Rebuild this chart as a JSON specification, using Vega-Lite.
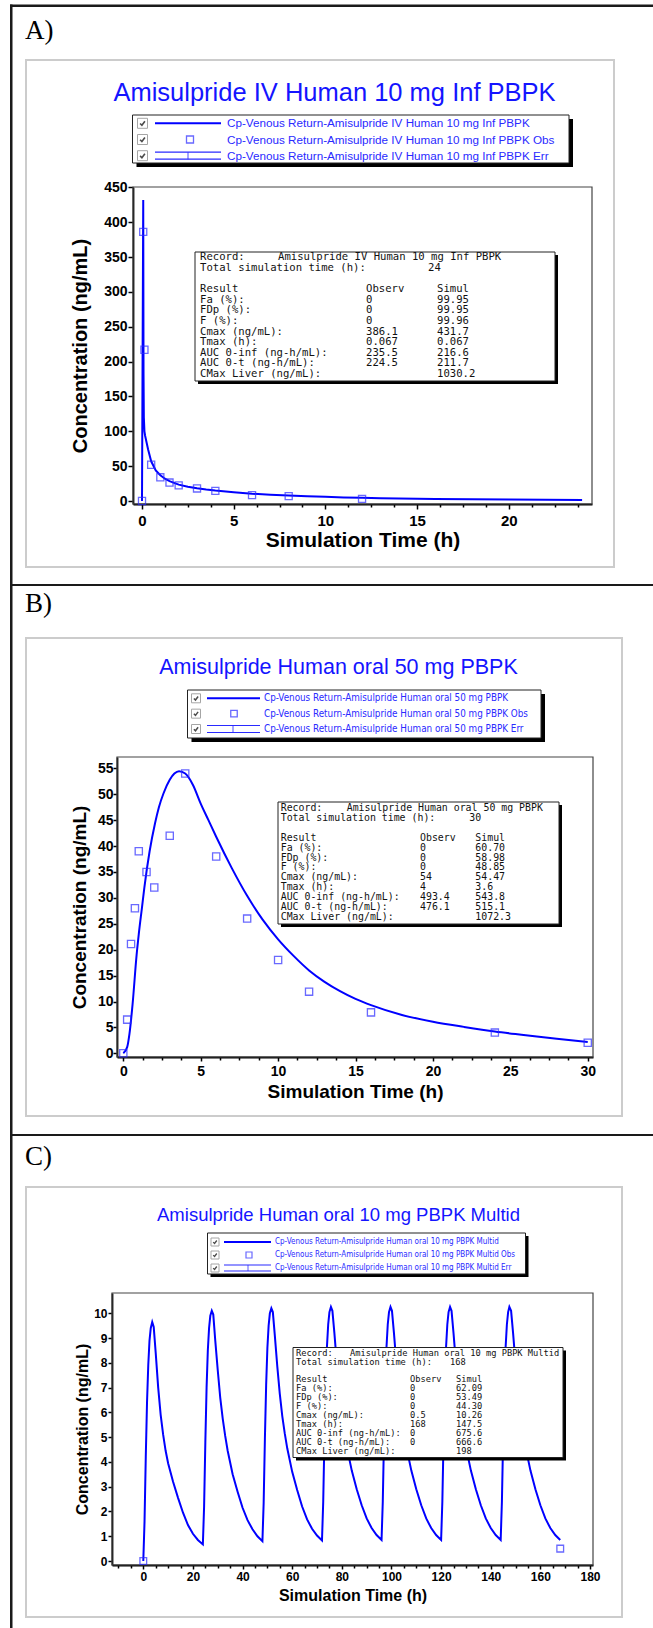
{
"$schema":"https://vega.github.io/schema/vega-lite/v6.json",
"background":"white",
"padding":0,
"spacing":0,
"config":{
 "view":{"stroke":null},
 "axis":{"labelFont":"Liberation Sans","titleFont":"Liberation Sans","labelFontWeight":"bold","titleFontWeight":"bold","labelColor":"#000","titleColor":"#000","tickColor":"#000","domainColor":"#000","grid":false,"labelFlush":false,"labelOverlap":false,"tickWidth":1.5,"domainWidth":1.8}
},
"vconcat":[
{
 "width":481,"height":317,
 "resolve":{"scale":{"x":"independent","y":"independent"}},
 "layer":[
  {"data":{"values":[{}]},
   "layer":[
    {"mark":{"type":"rect","fill":"#ffffff","fillOpacity":0},"encoding":{"x":{"datum":0,"type":"quantitative","scale":{"domain":[0,653],"range":[-112,541],"nice":false,"zero":false},"axis":null},"x2":{"datum":653},"y":{"datum":0,"type":"quantitative","scale":{"domain":[0,586],"range":[-187,399],"nice":false,"zero":false},"axis":null},"y2":{"datum":586}}},
    {"mark":{"type":"rect","fill":"#1a1a1a"},"encoding":{"x":{"datum":10,"type":"quantitative","axis":null},"x2":{"datum":653},"y":{"datum":4.5,"type":"quantitative","axis":null},"y2":{"datum":7}}},
    {"mark":{"type":"rect","fill":"#1a1a1a"},"encoding":{"x":{"datum":10,"type":"quantitative","axis":null},"x2":{"datum":12.5},"y":{"datum":4.5,"type":"quantitative","axis":null},"y2":{"datum":586}}},
    {"mark":{"type":"rect","fill":"#1a1a1a"},"encoding":{"x":{"datum":10,"type":"quantitative","axis":null},"x2":{"datum":653},"y":{"datum":584,"type":"quantitative","axis":null},"y2":{"datum":586}}},
    {"mark":{"type":"rect","filled":false,"stroke":"#cccccc","strokeWidth":2},"encoding":{"x":{"datum":26,"type":"quantitative","axis":null},"x2":{"datum":614},"y":{"datum":60,"type":"quantitative","axis":null},"y2":{"datum":567}}},
    {"mark":{"type":"rect","filled":false,"stroke":"#444","strokeWidth":1.2},"encoding":{"x":{"datum":133,"type":"quantitative","axis":null},"x2":{"datum":592},"y":{"datum":187,"type":"quantitative","axis":null},"y2":{"datum":504}}},
    {"mark":{"type":"text","text":"A)","font":"Liberation Serif","fontSize":27,"align":"left","baseline":"middle","fill":"#000"},"encoding":{"x":{"datum":25,"type":"quantitative","axis":null},"y":{"datum":31,"type":"quantitative","axis":null}}},
    {"mark":{"type":"text","text":"Amisulpride IV Human 10 mg Inf PBPK","font":"Liberation Sans","fontSize":25.5,"align":"center","baseline":"middle","fill":"#1414ff"},"encoding":{"x":{"datum":334.5,"type":"quantitative","axis":null},"y":{"datum":93,"type":"quantitative","axis":null}}},
    {"mark":{"type":"rect","fill":"#000"},"encoding":{"x":{"datum":136.5,"type":"quantitative","axis":null},"x2":{"datum":573},"y":{"datum":119,"type":"quantitative","axis":null},"y2":{"datum":167}}},
    {"mark":{"type":"rect","fill":"#fff","stroke":"#222","strokeWidth":1},"encoding":{"x":{"datum":132.5,"type":"quantitative","axis":null},"x2":{"datum":569},"y":{"datum":115,"type":"quantitative","axis":null},"y2":{"datum":163}}}
   ]},
  {"data":{"values":[
    {"label":"Cp-Venous Return-Amisulpride IV Human 10 mg Inf PBPK","kind":"sim"},
    {"label":"Cp-Venous Return-Amisulpride IV Human 10 mg Inf PBPK Obs","kind":"obs"},
    {"label":"Cp-Venous Return-Amisulpride IV Human 10 mg Inf PBPK Err","kind":"err"}]},
   "encoding":{"y":{"field":"label","type":"nominal","scale":{"type":"point","domain":["Cp-Venous Return-Amisulpride IV Human 10 mg Inf PBPK","Cp-Venous Return-Amisulpride IV Human 10 mg Inf PBPK Obs","Cp-Venous Return-Amisulpride IV Human 10 mg Inf PBPK Err"],"range":[-63.7,-31.3],"padding":0},"axis":null}},
   "layer":[
    {"mark":{"type":"point","shape":"square","size":100,"filled":false,"stroke":"#808080","strokeWidth":1},"encoding":{"x":{"datum":142.5,"type":"quantitative","scale":{"domain":[0,653],"range":[-112,541],"nice":false,"zero":false},"axis":null}}},
    {"mark":{"type":"point","shape":"M-0.6,0.05L-0.15,0.5L0.6,-0.5","size":64,"filled":false,"stroke":"#000","strokeWidth":1.6},"encoding":{"x":{"datum":142.5,"type":"quantitative","axis":null}}},
    {"transform":[{"filter":{"field":"kind","equal":"sim"}}],"mark":{"type":"rule","stroke":"#0000ff","strokeWidth":2},"encoding":{"x":{"datum":155,"type":"quantitative","axis":null},"x2":{"datum":221}}},
    {"transform":[{"filter":{"field":"kind","equal":"obs"}}],"mark":{"type":"point","shape":"square","size":49,"filled":false,"stroke":"#2a2aff","strokeWidth":1.3},"encoding":{"x":{"datum":190,"type":"quantitative","axis":null}}},
    {"transform":[{"filter":{"field":"kind","equal":"err"}}],"mark":{"type":"rule","stroke":"#2a2aff","strokeWidth":1.2,"yOffset":-3.5},"encoding":{"x":{"datum":155,"type":"quantitative","axis":null},"x2":{"datum":221}}},
    {"transform":[{"filter":{"field":"kind","equal":"err"}}],"mark":{"type":"rule","stroke":"#2a2aff","strokeWidth":1.2,"yOffset":3.5},"encoding":{"x":{"datum":155,"type":"quantitative","axis":null},"x2":{"datum":221}}},
    {"transform":[{"filter":{"field":"kind","equal":"err"}}],"mark":{"type":"point","shape":"M0,-1L0,1","size":49,"filled":false,"stroke":"#2a2aff","strokeWidth":1.2},"encoding":{"x":{"datum":188,"type":"quantitative","axis":null}}},
    {"mark":{"type":"text","align":"left","baseline":"middle","font":"Liberation Sans","fontSize":11.7,"fill":"#2a2aff"},"encoding":{"x":{"datum":227,"type":"quantitative","axis":null},"text":{"field":"label","type":"nominal"}}}
   ]},
  {"layer":[
    {"data":{"values":[
      {"time":0,"conc":0},{"time":0.033,"conc":215},{"time":0.067,"conc":431.7},{"time":0.083,"conc":183},{"time":0.1,"conc":120},{"time":0.133,"conc":100},{"time":0.167,"conc":94},{"time":0.25,"conc":84},{"time":0.333,"conc":74},{"time":0.5,"conc":57},{"time":0.75,"conc":44},{"time":1,"conc":37},{"time":1.25,"conc":32},{"time":1.5,"conc":28.5},{"time":2,"conc":23.5},{"time":2.5,"conc":20.5},{"time":3,"conc":18.3},{"time":3.5,"conc":16.5},{"time":4,"conc":15},{"time":5,"conc":12.6},{"time":6,"conc":10.5},{"time":7,"conc":9},{"time":8,"conc":7.8},{"time":9,"conc":6.8},{"time":10,"conc":6},{"time":11,"conc":5.2},{"time":12,"conc":4.6},{"time":13,"conc":4.1},{"time":14,"conc":3.7},{"time":15,"conc":3.3},{"time":16,"conc":3},{"time":18,"conc":2.6},{"time":20,"conc":2.2},{"time":22,"conc":1.9},{"time":24,"conc":1.6}]},
     "mark":{"type":"line","stroke":"#0000ff","strokeWidth":2},
     "encoding":{
      "x":{"field":"time","type":"quantitative","scale":{"domain":[-0.491,24.54],"range":[21,480],"nice":false,"zero":false},"axis":{"values":[0,5,10,15,20],"title":"Simulation Time (h)","labelFontSize":15,"titleFontSize":21,"tickSize":5,"labelPadding":4,"titleY":36,"titleBaseline":"middle"}},
      "y":{"field":"conc","type":"quantitative","scale":{"domain":[-4.3,450.5],"nice":false,"zero":false},"axis":{"offset":-21,"values":[0,50,100,150,200,250,300,350,400,450],"title":"Concentration (ng/mL)","labelFontSize":14,"titleFontSize":20,"tickSize":5,"labelPadding":1,"titleX":-53,"titleBaseline":"middle"}}}},
    {"data":{"values":[{"time":0,"conc":0},{"time":0.067,"conc":386.1},{"time":0.133,"conc":217},{"time":0.5,"conc":52},{"time":1,"conc":34},{"time":1.5,"conc":26.5},{"time":2,"conc":22.5},{"time":3,"conc":18},{"time":4,"conc":14.5},{"time":6,"conc":8.5},{"time":8,"conc":7},{"time":12,"conc":3}]},
     "mark":{"type":"point","shape":"square","size":50,"filled":false,"stroke":"#2a2aff","strokeWidth":1.3},
     "encoding":{"x":{"field":"time","type":"quantitative","axis":null},"y":{"field":"conc","type":"quantitative","axis":null}}},
    {"data":{"values":[{"time":0,"conc":0}]},
     "mark":{"type":"point","opacity":0},
     "encoding":{"x":{"field":"time","type":"quantitative","axis":{"orient":"bottom","values":[1.25,2.5,3.75,6.25,7.5,8.75,11.25,12.5,13.75,16.25,17.5,18.75,21.25,22.5,23.75],"labels":false,"domain":false,"title":null,"tickSize":3}},"y":{"field":"conc","type":"quantitative","axis":null}}}
   ],
   "resolve":{"axis":{"x":"independent","y":"independent"}}},
  {"data":{"values":[{}]},
   "layer":[
    {"mark":{"type":"rect","fill":"#000"},"encoding":{"x":{"datum":198,"type":"quantitative","scale":{"domain":[0,653],"range":[-112,541],"nice":false,"zero":false},"axis":null},"x2":{"datum":558},"y":{"datum":255,"type":"quantitative","scale":{"domain":[0,586],"range":[-187,399],"nice":false,"zero":false},"axis":null},"y2":{"datum":384}}},
    {"mark":{"type":"rect","fill":"#fff","stroke":"#222","strokeWidth":1},"encoding":{"x":{"datum":195,"type":"quantitative","axis":null},"x2":{"datum":555},"y":{"datum":252,"type":"quantitative","axis":null},"y2":{"datum":381}}}
   ]},
  {"data":{"values":[
    {"result":"Record:","name":"Amisulpride IV Human 10 mg Inf PBPK"},
    {"result":"Total simulation time (h):","time":"24"},
    {"result":"Result","observ":"Observ","simul":"Simul"},
    {"result":"Fa (%):","observ":"0","simul":"99.95"},
    {"result":"FDp (%):","observ":"0","simul":"99.95"},
    {"result":"F (%):","observ":"0","simul":"99.96"},
    {"result":"Cmax (ng/mL):","observ":"386.1","simul":"431.7"},
    {"result":"Tmax (h):","observ":"0.067","simul":"0.067"},
    {"result":"AUC 0-inf (ng-h/mL):","observ":"235.5","simul":"216.6"},
    {"result":"AUC 0-t (ng-h/mL):","observ":"224.5","simul":"211.7"},
    {"result":"CMax Liver (ng/mL):","simul":"1030.2"}]},
   "encoding":{"y":{"field":"result","type":"nominal","scale":{"type":"point","domain":["Record:","Total simulation time (h):"," ","Result","Fa (%):","FDp (%):","F (%):","Cmax (ng/mL):","Tmax (h):","AUC 0-inf (ng-h/mL):","AUC 0-t (ng-h/mL):","CMax Liver (ng/mL):"],"range":[70.3,187],"padding":0},"axis":null}},
   "layer":[
    {"mark":{"type":"text","align":"left","baseline":"middle","font":"DejaVu Sans Mono","fontSize":10.6,"fill":"#111"},"encoding":{"x":{"datum":200,"type":"quantitative","scale":{"domain":[0,653],"range":[-112,541],"nice":false,"zero":false},"axis":null},"text":{"field":"result","type":"nominal"}}},
    {"transform":[{"filter":"isValid(datum.name)"}],"mark":{"type":"text","align":"left","baseline":"middle","font":"DejaVu Sans Mono","fontSize":10.6,"fill":"#111"},"encoding":{"x":{"datum":278,"type":"quantitative","axis":null},"text":{"field":"name","type":"nominal"}}},
    {"transform":[{"filter":"isValid(datum.time)"}],"mark":{"type":"text","align":"left","baseline":"middle","font":"DejaVu Sans Mono","fontSize":10.6,"fill":"#111"},"encoding":{"x":{"datum":428,"type":"quantitative","axis":null},"text":{"field":"time","type":"nominal"}}},
    {"transform":[{"filter":"isValid(datum.observ)"}],"mark":{"type":"text","align":"left","baseline":"middle","font":"DejaVu Sans Mono","fontSize":10.6,"fill":"#111"},"encoding":{"x":{"datum":366,"type":"quantitative","axis":null},"text":{"field":"observ","type":"nominal"}}},
    {"transform":[{"filter":"isValid(datum.simul)"}],"mark":{"type":"text","align":"left","baseline":"middle","font":"DejaVu Sans Mono","fontSize":10.6,"fill":"#111"},"encoding":{"x":{"datum":437,"type":"quantitative","axis":null},"text":{"field":"simul","type":"nominal"}}}
   ]}
 ]
},
{
 "width":481,"height":300,
 "resolve":{"scale":{"x":"independent","y":"independent"}},
 "layer":[
  {"data":{"values":[{}]},
   "layer":[
    {"mark":{"type":"rect","fill":"#ffffff","fillOpacity":0},"encoding":{"x":{"datum":0,"type":"quantitative","scale":{"domain":[0,653],"range":[-112,541],"nice":false,"zero":false},"axis":null},"x2":{"datum":653},"y":{"datum":586,"type":"quantitative","scale":{"domain":[586,1136],"range":[-171,379],"nice":false,"zero":false},"axis":null},"y2":{"datum":1136}}},
    {"mark":{"type":"rect","fill":"#1a1a1a"},"encoding":{"x":{"datum":10,"type":"quantitative","axis":null},"x2":{"datum":12.5},"y":{"datum":586,"type":"quantitative","axis":null},"y2":{"datum":1136}}},
    {"mark":{"type":"rect","fill":"#1a1a1a"},"encoding":{"x":{"datum":10,"type":"quantitative","axis":null},"x2":{"datum":653},"y":{"datum":1134,"type":"quantitative","axis":null},"y2":{"datum":1136}}},
    {"mark":{"type":"rect","filled":false,"stroke":"#cccccc","strokeWidth":2},"encoding":{"x":{"datum":26,"type":"quantitative","axis":null},"x2":{"datum":622},"y":{"datum":638,"type":"quantitative","axis":null},"y2":{"datum":1116}}},
    {"mark":{"type":"rect","filled":false,"stroke":"#444","strokeWidth":1.2},"encoding":{"x":{"datum":117,"type":"quantitative","axis":null},"x2":{"datum":593},"y":{"datum":757,"type":"quantitative","axis":null},"y2":{"datum":1057}}},
    {"mark":{"type":"text","text":"B)","font":"Liberation Serif","fontSize":27,"align":"left","baseline":"middle","fill":"#000"},"encoding":{"x":{"datum":25,"type":"quantitative","axis":null},"y":{"datum":604,"type":"quantitative","axis":null}}},
    {"mark":{"type":"text","text":"Amisulpride Human oral 50 mg PBPK","font":"Liberation Sans","fontSize":21.5,"align":"center","baseline":"middle","fill":"#1414ff"},"encoding":{"x":{"datum":338.5,"type":"quantitative","axis":null},"y":{"datum":668,"type":"quantitative","axis":null}}},
    {"mark":{"type":"rect","fill":"#000"},"encoding":{"x":{"datum":191.5,"type":"quantitative","axis":null},"x2":{"datum":545},"y":{"datum":694,"type":"quantitative","axis":null},"y2":{"datum":742}}},
    {"mark":{"type":"rect","fill":"#fff","stroke":"#222","strokeWidth":1},"encoding":{"x":{"datum":187.5,"type":"quantitative","axis":null},"x2":{"datum":541},"y":{"datum":690,"type":"quantitative","axis":null},"y2":{"datum":738}}}
   ]},
  {"data":{"values":[
    {"label":"Cp-Venous Return-Amisulpride Human oral 50 mg PBPK","kind":"sim"},
    {"label":"Cp-Venous Return-Amisulpride Human oral 50 mg PBPK Obs","kind":"obs"},
    {"label":"Cp-Venous Return-Amisulpride Human oral 50 mg PBPK Err","kind":"err"}]},
   "encoding":{"y":{"field":"label","type":"nominal","scale":{"type":"point","domain":["Cp-Venous Return-Amisulpride Human oral 50 mg PBPK","Cp-Venous Return-Amisulpride Human oral 50 mg PBPK Obs","Cp-Venous Return-Amisulpride Human oral 50 mg PBPK Err"],"range":[-58.7,-28],"padding":0},"axis":null}},
   "layer":[
    {"mark":{"type":"point","shape":"square","size":81,"filled":false,"stroke":"#808080","strokeWidth":1},"encoding":{"x":{"datum":196,"type":"quantitative","scale":{"domain":[0,653],"range":[-112,541],"nice":false,"zero":false},"axis":null}}},
    {"mark":{"type":"point","shape":"M-0.6,0.05L-0.15,0.5L0.6,-0.5","size":49,"filled":false,"stroke":"#000","strokeWidth":1.5},"encoding":{"x":{"datum":196,"type":"quantitative","axis":null}}},
    {"transform":[{"filter":{"field":"kind","equal":"sim"}}],"mark":{"type":"rule","stroke":"#0000ff","strokeWidth":2},"encoding":{"x":{"datum":207,"type":"quantitative","axis":null},"x2":{"datum":260}}},
    {"transform":[{"filter":{"field":"kind","equal":"obs"}}],"mark":{"type":"point","shape":"square","size":42,"filled":false,"stroke":"#2a2aff","strokeWidth":1.3},"encoding":{"x":{"datum":234,"type":"quantitative","axis":null}}},
    {"transform":[{"filter":{"field":"kind","equal":"err"}}],"mark":{"type":"rule","stroke":"#2a2aff","strokeWidth":1.2,"yOffset":-3.5},"encoding":{"x":{"datum":207,"type":"quantitative","axis":null},"x2":{"datum":260}}},
    {"transform":[{"filter":{"field":"kind","equal":"err"}}],"mark":{"type":"rule","stroke":"#2a2aff","strokeWidth":1.2,"yOffset":3.5},"encoding":{"x":{"datum":207,"type":"quantitative","axis":null},"x2":{"datum":260}}},
    {"transform":[{"filter":{"field":"kind","equal":"err"}}],"mark":{"type":"point","shape":"M0,-1L0,1","size":49,"filled":false,"stroke":"#2a2aff","strokeWidth":1.2},"encoding":{"x":{"datum":233,"type":"quantitative","axis":null}}},
    {"mark":{"type":"text","align":"left","baseline":"middle","font":"Liberation Sans Narrow, DejaVu Sans Condensed, sans-serif","fontSize":9.8,"fill":"#2a2aff"},"encoding":{"x":{"datum":264,"type":"quantitative","axis":null},"text":{"field":"label","type":"nominal"}}}
   ]},
  {"layer":[
    {"data":{"values":[
      {"time":0,"conc":0},{"time":0.25,"conc":1.2},{"time":0.4,"conc":3.8},{"time":0.6,"conc":9.5},{"time":0.86,"conc":19},{"time":1,"conc":23},{"time":1.2,"conc":28},{"time":1.36,"conc":32},{"time":1.7,"conc":39},{"time":2.05,"conc":44.4},{"time":2.3,"conc":47.5},{"time":2.6,"conc":50.2},{"time":3,"conc":52.8},{"time":3.3,"conc":54},{"time":3.6,"conc":54.47},{"time":4,"conc":54},{"time":4.5,"conc":51.8},{"time":5,"conc":48.2},{"time":5.5,"conc":45},{"time":6,"conc":41.8},{"time":7,"conc":35.8},{"time":8,"conc":30.4},{"time":9,"conc":25.8},{"time":10,"conc":22},{"time":11,"conc":18.8},{"time":12,"conc":16},{"time":13,"conc":13.8},{"time":14,"conc":12},{"time":15,"conc":10.5},{"time":16,"conc":9.3},{"time":18,"conc":7.4},{"time":20,"conc":6.1},{"time":22,"conc":5.1},{"time":24,"conc":4.2},{"time":26,"conc":3.5},{"time":28,"conc":2.8},{"time":30,"conc":2.2}]},
     "mark":{"type":"line","stroke":"#0000ff","strokeWidth":2,"interpolate":"monotone"},
     "encoding":{
      "x":{"field":"time","type":"quantitative","scale":{"domain":[-0.407,30.34],"range":[5,481],"nice":false,"zero":false},"axis":{"values":[0,5,10,15,20,25,30],"title":"Simulation Time (h)","labelFontSize":14,"titleFontSize":19,"tickSize":4,"labelPadding":3,"titleY":34.4,"titleBaseline":"middle"}},
      "y":{"field":"conc","type":"quantitative","scale":{"domain":[-0.714,57.2],"nice":false,"zero":false},"axis":{"offset":-5,"values":[0,5,10,15,20,25,30,35,40,45,50,55],"title":"Concentration (ng/mL)","labelFontSize":14,"titleFontSize":19,"tickSize":4,"labelPadding":0,"titleX":-37.3,"titleBaseline":"middle"}}}},
    {"data":{"values":[{"time":0,"conc":0},{"time":0.25,"conc":6.5},{"time":0.5,"conc":21.1},{"time":0.75,"conc":28},{"time":1,"conc":39},{"time":1.5,"conc":35},{"time":2,"conc":32},{"time":3,"conc":42},{"time":4,"conc":54},{"time":6,"conc":38},{"time":8,"conc":26},{"time":10,"conc":18},{"time":12,"conc":11.9},{"time":16,"conc":7.9},{"time":24,"conc":4},{"time":30,"conc":2.05}]},
     "mark":{"type":"point","shape":"square","size":52,"filled":false,"stroke":"#2a2aff","strokeWidth":1.3},
     "encoding":{"x":{"field":"time","type":"quantitative","axis":null},"y":{"field":"conc","type":"quantitative","axis":null}}},
    {"data":{"values":[{"time":0,"conc":0}]},
     "mark":{"type":"point","opacity":0},
     "encoding":{"x":{"field":"time","type":"quantitative","axis":{"orient":"bottom","values":[1.25,2.5,3.75,6.25,7.5,8.75,11.25,12.5,13.75,16.25,17.5,18.75,21.25,22.5,23.75,26.25,27.5,28.75],"labels":false,"domain":false,"title":null,"tickSize":3}},"y":{"field":"conc","type":"quantitative","axis":null}}}
   ],
   "resolve":{"axis":{"x":"independent","y":"independent"}}},
  {"data":{"values":[{}]},
   "layer":[
    {"mark":{"type":"rect","fill":"#000"},"encoding":{"x":{"datum":281,"type":"quantitative","scale":{"domain":[0,653],"range":[-112,541],"nice":false,"zero":false},"axis":null},"x2":{"datum":562},"y":{"datum":805,"type":"quantitative","scale":{"domain":[586,1136],"range":[-171,379],"nice":false,"zero":false},"axis":null},"y2":{"datum":927}}},
    {"mark":{"type":"rect","fill":"#fff","stroke":"#222","strokeWidth":1},"encoding":{"x":{"datum":278,"type":"quantitative","axis":null},"x2":{"datum":559},"y":{"datum":802,"type":"quantitative","axis":null},"y2":{"datum":924}}}
   ]},
  {"data":{"values":[
    {"result":"Record:","name":"Amisulpride Human oral 50 mg PBPK"},
    {"result":"Total simulation time (h):","time":"30"},
    {"result":"Result","observ":"Observ","simul":"Simul"},
    {"result":"Fa (%):","observ":"0","simul":"60.70"},
    {"result":"FDp (%):","observ":"0","simul":"58.98"},
    {"result":"F (%):","observ":"0","simul":"48.85"},
    {"result":"Cmax (ng/mL):","observ":"54","simul":"54.47"},
    {"result":"Tmax (h):","observ":"4","simul":"3.6"},
    {"result":"AUC 0-inf (ng-h/mL):","observ":"493.4","simul":"543.8"},
    {"result":"AUC 0-t (ng-h/mL):","observ":"476.1","simul":"515.1"},
    {"result":"CMax Liver (ng/mL):","simul":"1072.3"}]},
   "encoding":{"y":{"field":"result","type":"nominal","scale":{"type":"point","domain":["Record:","Total simulation time (h):"," ","Result","Fa (%):","FDp (%):","F (%):","Cmax (ng/mL):","Tmax (h):","AUC 0-inf (ng-h/mL):","AUC 0-t (ng-h/mL):","CMax Liver (ng/mL):"],"range":[51.3,159.7],"padding":0},"axis":null}},
   "layer":[
    {"mark":{"type":"text","align":"left","baseline":"middle","font":"DejaVu Sans Mono","fontSize":9.9,"fill":"#111"},"encoding":{"x":{"datum":280.7,"type":"quantitative","scale":{"domain":[0,653],"range":[-112,541],"nice":false,"zero":false},"axis":null},"text":{"field":"result","type":"nominal"}}},
    {"transform":[{"filter":"isValid(datum.name)"}],"mark":{"type":"text","align":"left","baseline":"middle","font":"DejaVu Sans Mono","fontSize":9.9,"fill":"#111"},"encoding":{"x":{"datum":346.7,"type":"quantitative","axis":null},"text":{"field":"name","type":"nominal"}}},
    {"transform":[{"filter":"isValid(datum.time)"}],"mark":{"type":"text","align":"left","baseline":"middle","font":"DejaVu Sans Mono","fontSize":9.9,"fill":"#111"},"encoding":{"x":{"datum":469.3,"type":"quantitative","axis":null},"text":{"field":"time","type":"nominal"}}},
    {"transform":[{"filter":"isValid(datum.observ)"}],"mark":{"type":"text","align":"left","baseline":"middle","font":"DejaVu Sans Mono","fontSize":9.9,"fill":"#111"},"encoding":{"x":{"datum":420,"type":"quantitative","axis":null},"text":{"field":"observ","type":"nominal"}}},
    {"transform":[{"filter":"isValid(datum.simul)"}],"mark":{"type":"text","align":"left","baseline":"middle","font":"DejaVu Sans Mono","fontSize":9.9,"fill":"#111"},"encoding":{"x":{"datum":475.3,"type":"quantitative","axis":null},"text":{"field":"simul","type":"nominal"}}}
   ]}
 ]
},
{
 "width":481,"height":272,
 "resolve":{"scale":{"x":"independent","y":"independent"}},
 "layer":[
  {"data":{"values":[{}]},
   "layer":[
    {"mark":{"type":"rect","fill":"#ffffff","fillOpacity":0},"encoding":{"x":{"datum":0,"type":"quantitative","scale":{"domain":[0,653],"range":[-112,541],"nice":false,"zero":false},"axis":null},"x2":{"datum":653},"y":{"datum":1136,"type":"quantitative","scale":{"domain":[1136,1628],"range":[-157,335],"nice":false,"zero":false},"axis":null},"y2":{"datum":1628}}},
    {"mark":{"type":"rect","fill":"#1a1a1a"},"encoding":{"x":{"datum":10,"type":"quantitative","axis":null},"x2":{"datum":12.5},"y":{"datum":1136,"type":"quantitative","axis":null},"y2":{"datum":1628}}},
    {"mark":{"type":"rect","filled":false,"stroke":"#cccccc","strokeWidth":2},"encoding":{"x":{"datum":26,"type":"quantitative","axis":null},"x2":{"datum":622},"y":{"datum":1187,"type":"quantitative","axis":null},"y2":{"datum":1617}}},
    {"mark":{"type":"rect","filled":false,"stroke":"#444","strokeWidth":1.2},"encoding":{"x":{"datum":112,"type":"quantitative","axis":null},"x2":{"datum":593},"y":{"datum":1293,"type":"quantitative","axis":null},"y2":{"datum":1565}}},
    {"mark":{"type":"text","text":"C)","font":"Liberation Serif","fontSize":27,"align":"left","baseline":"middle","fill":"#000"},"encoding":{"x":{"datum":25,"type":"quantitative","axis":null},"y":{"datum":1157,"type":"quantitative","axis":null}}},
    {"mark":{"type":"text","text":"Amisulpride Human oral 10 mg PBPK Multid","font":"Liberation Sans","fontSize":18.5,"align":"center","baseline":"middle","fill":"#1414ff"},"encoding":{"x":{"datum":338.5,"type":"quantitative","axis":null},"y":{"datum":1215,"type":"quantitative","axis":null}}},
    {"mark":{"type":"rect","fill":"#000"},"encoding":{"x":{"datum":210.5,"type":"quantitative","axis":null},"x2":{"datum":528.5},"y":{"datum":1236,"type":"quantitative","axis":null},"y2":{"datum":1277}}},
    {"mark":{"type":"rect","fill":"#fff","stroke":"#222","strokeWidth":1},"encoding":{"x":{"datum":207.5,"type":"quantitative","axis":null},"x2":{"datum":525.5},"y":{"datum":1233,"type":"quantitative","axis":null},"y2":{"datum":1274}}}
   ]},
  {"data":{"values":[
    {"label":"Cp-Venous Return-Amisulpride Human oral 10 mg PBPK Multid","kind":"sim"},
    {"label":"Cp-Venous Return-Amisulpride Human oral 10 mg PBPK Multid Obs","kind":"obs"},
    {"label":"Cp-Venous Return-Amisulpride Human oral 10 mg PBPK Multid Err","kind":"err"}]},
   "encoding":{"y":{"field":"label","type":"nominal","scale":{"type":"point","domain":["Cp-Venous Return-Amisulpride Human oral 10 mg PBPK Multid","Cp-Venous Return-Amisulpride Human oral 10 mg PBPK Multid Obs","Cp-Venous Return-Amisulpride Human oral 10 mg PBPK Multid Err"],"range":[-51,-25],"padding":0},"axis":null}},
   "layer":[
    {"mark":{"type":"point","shape":"square","size":64,"filled":false,"stroke":"#808080","strokeWidth":1},"encoding":{"x":{"datum":215,"type":"quantitative","scale":{"domain":[0,653],"range":[-112,541],"nice":false,"zero":false},"axis":null}}},
    {"mark":{"type":"point","shape":"M-0.6,0.05L-0.15,0.5L0.6,-0.5","size":36,"filled":false,"stroke":"#000","strokeWidth":1.3},"encoding":{"x":{"datum":215,"type":"quantitative","axis":null}}},
    {"transform":[{"filter":{"field":"kind","equal":"sim"}}],"mark":{"type":"rule","stroke":"#0000ff","strokeWidth":2},"encoding":{"x":{"datum":224,"type":"quantitative","axis":null},"x2":{"datum":271}}},
    {"transform":[{"filter":{"field":"kind","equal":"obs"}}],"mark":{"type":"point","shape":"square","size":36,"filled":false,"stroke":"#2a2aff","strokeWidth":1.2},"encoding":{"x":{"datum":249,"type":"quantitative","axis":null}}},
    {"transform":[{"filter":{"field":"kind","equal":"err"}}],"mark":{"type":"rule","stroke":"#2a2aff","strokeWidth":1.1,"yOffset":-3},"encoding":{"x":{"datum":224,"type":"quantitative","axis":null},"x2":{"datum":271}}},
    {"transform":[{"filter":{"field":"kind","equal":"err"}}],"mark":{"type":"rule","stroke":"#2a2aff","strokeWidth":1.1,"yOffset":3},"encoding":{"x":{"datum":224,"type":"quantitative","axis":null},"x2":{"datum":271}}},
    {"transform":[{"filter":{"field":"kind","equal":"err"}}],"mark":{"type":"point","shape":"M0,-1L0,1","size":36,"filled":false,"stroke":"#2a2aff","strokeWidth":1.1},"encoding":{"x":{"datum":248,"type":"quantitative","axis":null}}},
    {"mark":{"type":"text","align":"left","baseline":"middle","font":"Liberation Sans Narrow, DejaVu Sans Condensed, sans-serif","fontSize":8,"fill":"#2a2aff"},"encoding":{"x":{"datum":275,"type":"quantitative","axis":null},"text":{"field":"label","type":"nominal"}}}
   ]},
  {"layer":[
    {"data":{"values":[
      {"time":0,"conc":0},{"time":0.5,"conc":1.6},{"time":1,"conc":4.2},{"time":1.5,"conc":6.4},{"time":2,"conc":7.9},{"time":2.5,"conc":8.9},{"time":3,"conc":9.4},{"time":3.6,"conc":9.65},{"time":4.2,"conc":9.45},{"time":5,"conc":8.4},{"time":6,"conc":7.0},{"time":7,"conc":5.9},{"time":8,"conc":5.1},{"time":9,"conc":4.45},{"time":10,"conc":3.95},{"time":12,"conc":3.2},{"time":14,"conc":2.55},{"time":16,"conc":1.95},{"time":18,"conc":1.45},{"time":20,"conc":1.1},{"time":22,"conc":0.85},{"time":24,"conc":0.67},
      {"time":24.5,"conc":2.2},{"time":25,"conc":4.8},{"time":25.5,"conc":7.0},{"time":26,"conc":8.5},{"time":26.5,"conc":9.4},{"time":27,"conc":9.9},{"time":27.6,"conc":10.1},{"time":28.2,"conc":9.95},{"time":29,"conc":8.9},{"time":30,"conc":7.7},{"time":31,"conc":6.6},{"time":32,"conc":5.75},{"time":33,"conc":5.05},{"time":34,"conc":4.45},{"time":36,"conc":3.5},{"time":38,"conc":2.8},{"time":40,"conc":2.15},{"time":42,"conc":1.65},{"time":44,"conc":1.28},{"time":46,"conc":1.0},{"time":48,"conc":0.8},
      {"time":48.5,"conc":2.35},{"time":49,"conc":4.95},{"time":49.5,"conc":7.1},{"time":50,"conc":8.6},{"time":50.5,"conc":9.5},{"time":51,"conc":10.0},{"time":51.6,"conc":10.2},{"time":52.2,"conc":10.05},{"time":53,"conc":9.1},{"time":54,"conc":7.85},{"time":55,"conc":6.75},{"time":56,"conc":5.85},{"time":57,"conc":5.15},{"time":58,"conc":4.55},{"time":60,"conc":3.6},{"time":62,"conc":2.87},{"time":64,"conc":2.2},{"time":66,"conc":1.68},{"time":68,"conc":1.3},{"time":70,"conc":1.03},{"time":72,"conc":0.83},
      {"time":72.5,"conc":2.4},{"time":73,"conc":5.0},{"time":73.5,"conc":7.15},{"time":74,"conc":8.65},{"time":74.5,"conc":9.55},{"time":75,"conc":10.05},{"time":75.6,"conc":10.26},{"time":76.2,"conc":10.1},{"time":77,"conc":9.2},{"time":78,"conc":7.95},{"time":79,"conc":6.85},{"time":80,"conc":5.95},{"time":81,"conc":5.2},{"time":82,"conc":4.6},{"time":84,"conc":3.65},{"time":86,"conc":2.9},{"time":88,"conc":2.25},{"time":90,"conc":1.72},{"time":92,"conc":1.33},{"time":94,"conc":1.05},{"time":96,"conc":0.85},
      {"time":96.5,"conc":2.4},{"time":97,"conc":5.0},{"time":97.5,"conc":7.15},{"time":98,"conc":8.65},{"time":98.5,"conc":9.55},{"time":99,"conc":10.05},{"time":99.6,"conc":10.26},{"time":100.2,"conc":10.1},{"time":101,"conc":9.2},{"time":102,"conc":7.95},{"time":103,"conc":6.85},{"time":104,"conc":5.95},{"time":105,"conc":5.2},{"time":106,"conc":4.6},{"time":108,"conc":3.65},{"time":110,"conc":2.9},{"time":112,"conc":2.25},{"time":114,"conc":1.72},{"time":116,"conc":1.33},{"time":118,"conc":1.05},{"time":120,"conc":0.85},
      {"time":120.5,"conc":2.4},{"time":121,"conc":5.0},{"time":121.5,"conc":7.15},{"time":122,"conc":8.65},{"time":122.5,"conc":9.55},{"time":123,"conc":10.05},{"time":123.6,"conc":10.26},{"time":124.2,"conc":10.1},{"time":125,"conc":9.2},{"time":126,"conc":7.95},{"time":127,"conc":6.85},{"time":128,"conc":5.95},{"time":129,"conc":5.2},{"time":130,"conc":4.6},{"time":132,"conc":3.65},{"time":134,"conc":2.9},{"time":136,"conc":2.25},{"time":138,"conc":1.72},{"time":140,"conc":1.33},{"time":142,"conc":1.05},{"time":144,"conc":0.85},
      {"time":144.5,"conc":2.4},{"time":145,"conc":5.0},{"time":145.5,"conc":7.15},{"time":146,"conc":8.65},{"time":146.5,"conc":9.55},{"time":147,"conc":10.05},{"time":147.5,"conc":10.26},{"time":148.2,"conc":10.1},{"time":149,"conc":9.2},{"time":150,"conc":7.95},{"time":151,"conc":6.85},{"time":152,"conc":5.95},{"time":153,"conc":5.2},{"time":154,"conc":4.6},{"time":156,"conc":3.65},{"time":158,"conc":2.9},{"time":160,"conc":2.25},{"time":162,"conc":1.72},{"time":164,"conc":1.33},{"time":166,"conc":1.05},{"time":168,"conc":0.85}]},
     "mark":{"type":"line","stroke":"#0000ff","strokeWidth":2},
     "encoding":{
      "x":{"field":"time","type":"quantitative","scale":{"domain":[-12.61,181.2],"range":[0,481],"nice":false,"zero":false},"axis":{"values":[0,20,40,60,80,100,120,140,160,180],"title":"Simulation Time (h)","labelFontSize":12,"titleFontSize":16,"tickSize":4,"labelPadding":2,"titleY":30,"titleBaseline":"middle"}},
      "y":{"field":"conc","type":"quantitative","scale":{"domain":[-0.161,10.82],"nice":false,"zero":false},"axis":{"values":[0,1,2,3,4,5,6,7,8,9,10],"title":"Concentration (ng/mL)","labelFontSize":12,"titleFontSize":16,"tickSize":4,"labelPadding":1,"titleX":-30,"titleBaseline":"middle"}}}},
    {"data":{"values":[{"time":0,"conc":0},{"time":168,"conc":0.5}]},
     "mark":{"type":"point","shape":"square","size":45,"filled":false,"stroke":"#2a2aff","strokeWidth":1.3},
     "encoding":{"x":{"field":"time","type":"quantitative","axis":null},"y":{"field":"conc","type":"quantitative","axis":null}}},
    {"data":{"values":[{"time":0,"conc":0}]},
     "mark":{"type":"point","opacity":0},
     "encoding":{"x":{"field":"time","type":"quantitative","axis":{"orient":"bottom","values":[-10,-5,5,10,15,25,30,35,45,50,55,65,70,75,85,90,95,105,110,115,125,130,135,145,150,155,165,170,175],"labels":false,"domain":false,"title":null,"tickSize":3}},"y":{"field":"conc","type":"quantitative","axis":null}}}
   ],
   "resolve":{"axis":{"x":"independent","y":"independent"}}},
  {"data":{"values":[{}]},
   "layer":[
    {"mark":{"type":"rect","fill":"#000"},"encoding":{"x":{"datum":296,"type":"quantitative","scale":{"domain":[0,653],"range":[-112,541],"nice":false,"zero":false},"axis":null},"x2":{"datum":566},"y":{"datum":1350.5,"type":"quantitative","scale":{"domain":[1136,1628],"range":[-157,335],"nice":false,"zero":false},"axis":null},"y2":{"datum":1460.5}}},
    {"mark":{"type":"rect","fill":"#fff","stroke":"#222","strokeWidth":1},"encoding":{"x":{"datum":293,"type":"quantitative","axis":null},"x2":{"datum":563},"y":{"datum":1347.5,"type":"quantitative","axis":null},"y2":{"datum":1457.5}}}
   ]},
  {"data":{"values":[
    {"result":"Record:","name":"Amisulpride Human oral 10 mg PBPK Multid"},
    {"result":"Total simulation time (h):","time":"168"},
    {"result":"Result","observ":"Observ","simul":"Simul"},
    {"result":"Fa (%):","observ":"0","simul":"62.09"},
    {"result":"FDp (%):","observ":"0","simul":"53.49"},
    {"result":"F (%):","observ":"0","simul":"44.30"},
    {"result":"Cmax (ng/mL):","observ":"0.5","simul":"10.26"},
    {"result":"Tmax (h):","observ":"168","simul":"147.5"},
    {"result":"AUC 0-inf (ng-h/mL):","observ":"0","simul":"675.6"},
    {"result":"AUC 0-t (ng-h/mL):","observ":"0","simul":"666.6"},
    {"result":"CMax Liver (ng/mL):","simul":"198"}]},
   "encoding":{"y":{"field":"result","type":"nominal","scale":{"type":"point","domain":["Record:","Total simulation time (h):"," ","Result","Fa (%):","FDp (%):","F (%):","Cmax (ng/mL):","Tmax (h):","AUC 0-inf (ng-h/mL):","AUC 0-t (ng-h/mL):","CMax Liver (ng/mL):"],"range":[59.7,157.7],"padding":0},"axis":null}},
   "layer":[
    {"mark":{"type":"text","align":"left","baseline":"middle","font":"DejaVu Sans Mono","fontSize":8.7,"fill":"#111"},"encoding":{"x":{"datum":296,"type":"quantitative","scale":{"domain":[0,653],"range":[-112,541],"nice":false,"zero":false},"axis":null},"text":{"field":"result","type":"nominal"}}},
    {"transform":[{"filter":"isValid(datum.name)"}],"mark":{"type":"text","align":"left","baseline":"middle","font":"DejaVu Sans Mono","fontSize":8.7,"fill":"#111"},"encoding":{"x":{"datum":350,"type":"quantitative","axis":null},"text":{"field":"name","type":"nominal"}}},
    {"transform":[{"filter":"isValid(datum.time)"}],"mark":{"type":"text","align":"left","baseline":"middle","font":"DejaVu Sans Mono","fontSize":8.7,"fill":"#111"},"encoding":{"x":{"datum":450,"type":"quantitative","axis":null},"text":{"field":"time","type":"nominal"}}},
    {"transform":[{"filter":"isValid(datum.observ)"}],"mark":{"type":"text","align":"left","baseline":"middle","font":"DejaVu Sans Mono","fontSize":8.7,"fill":"#111"},"encoding":{"x":{"datum":410,"type":"quantitative","axis":null},"text":{"field":"observ","type":"nominal"}}},
    {"transform":[{"filter":"isValid(datum.simul)"}],"mark":{"type":"text","align":"left","baseline":"middle","font":"DejaVu Sans Mono","fontSize":8.7,"fill":"#111"},"encoding":{"x":{"datum":456,"type":"quantitative","axis":null},"text":{"field":"simul","type":"nominal"}}}
   ]}
 ]
}
]
}
